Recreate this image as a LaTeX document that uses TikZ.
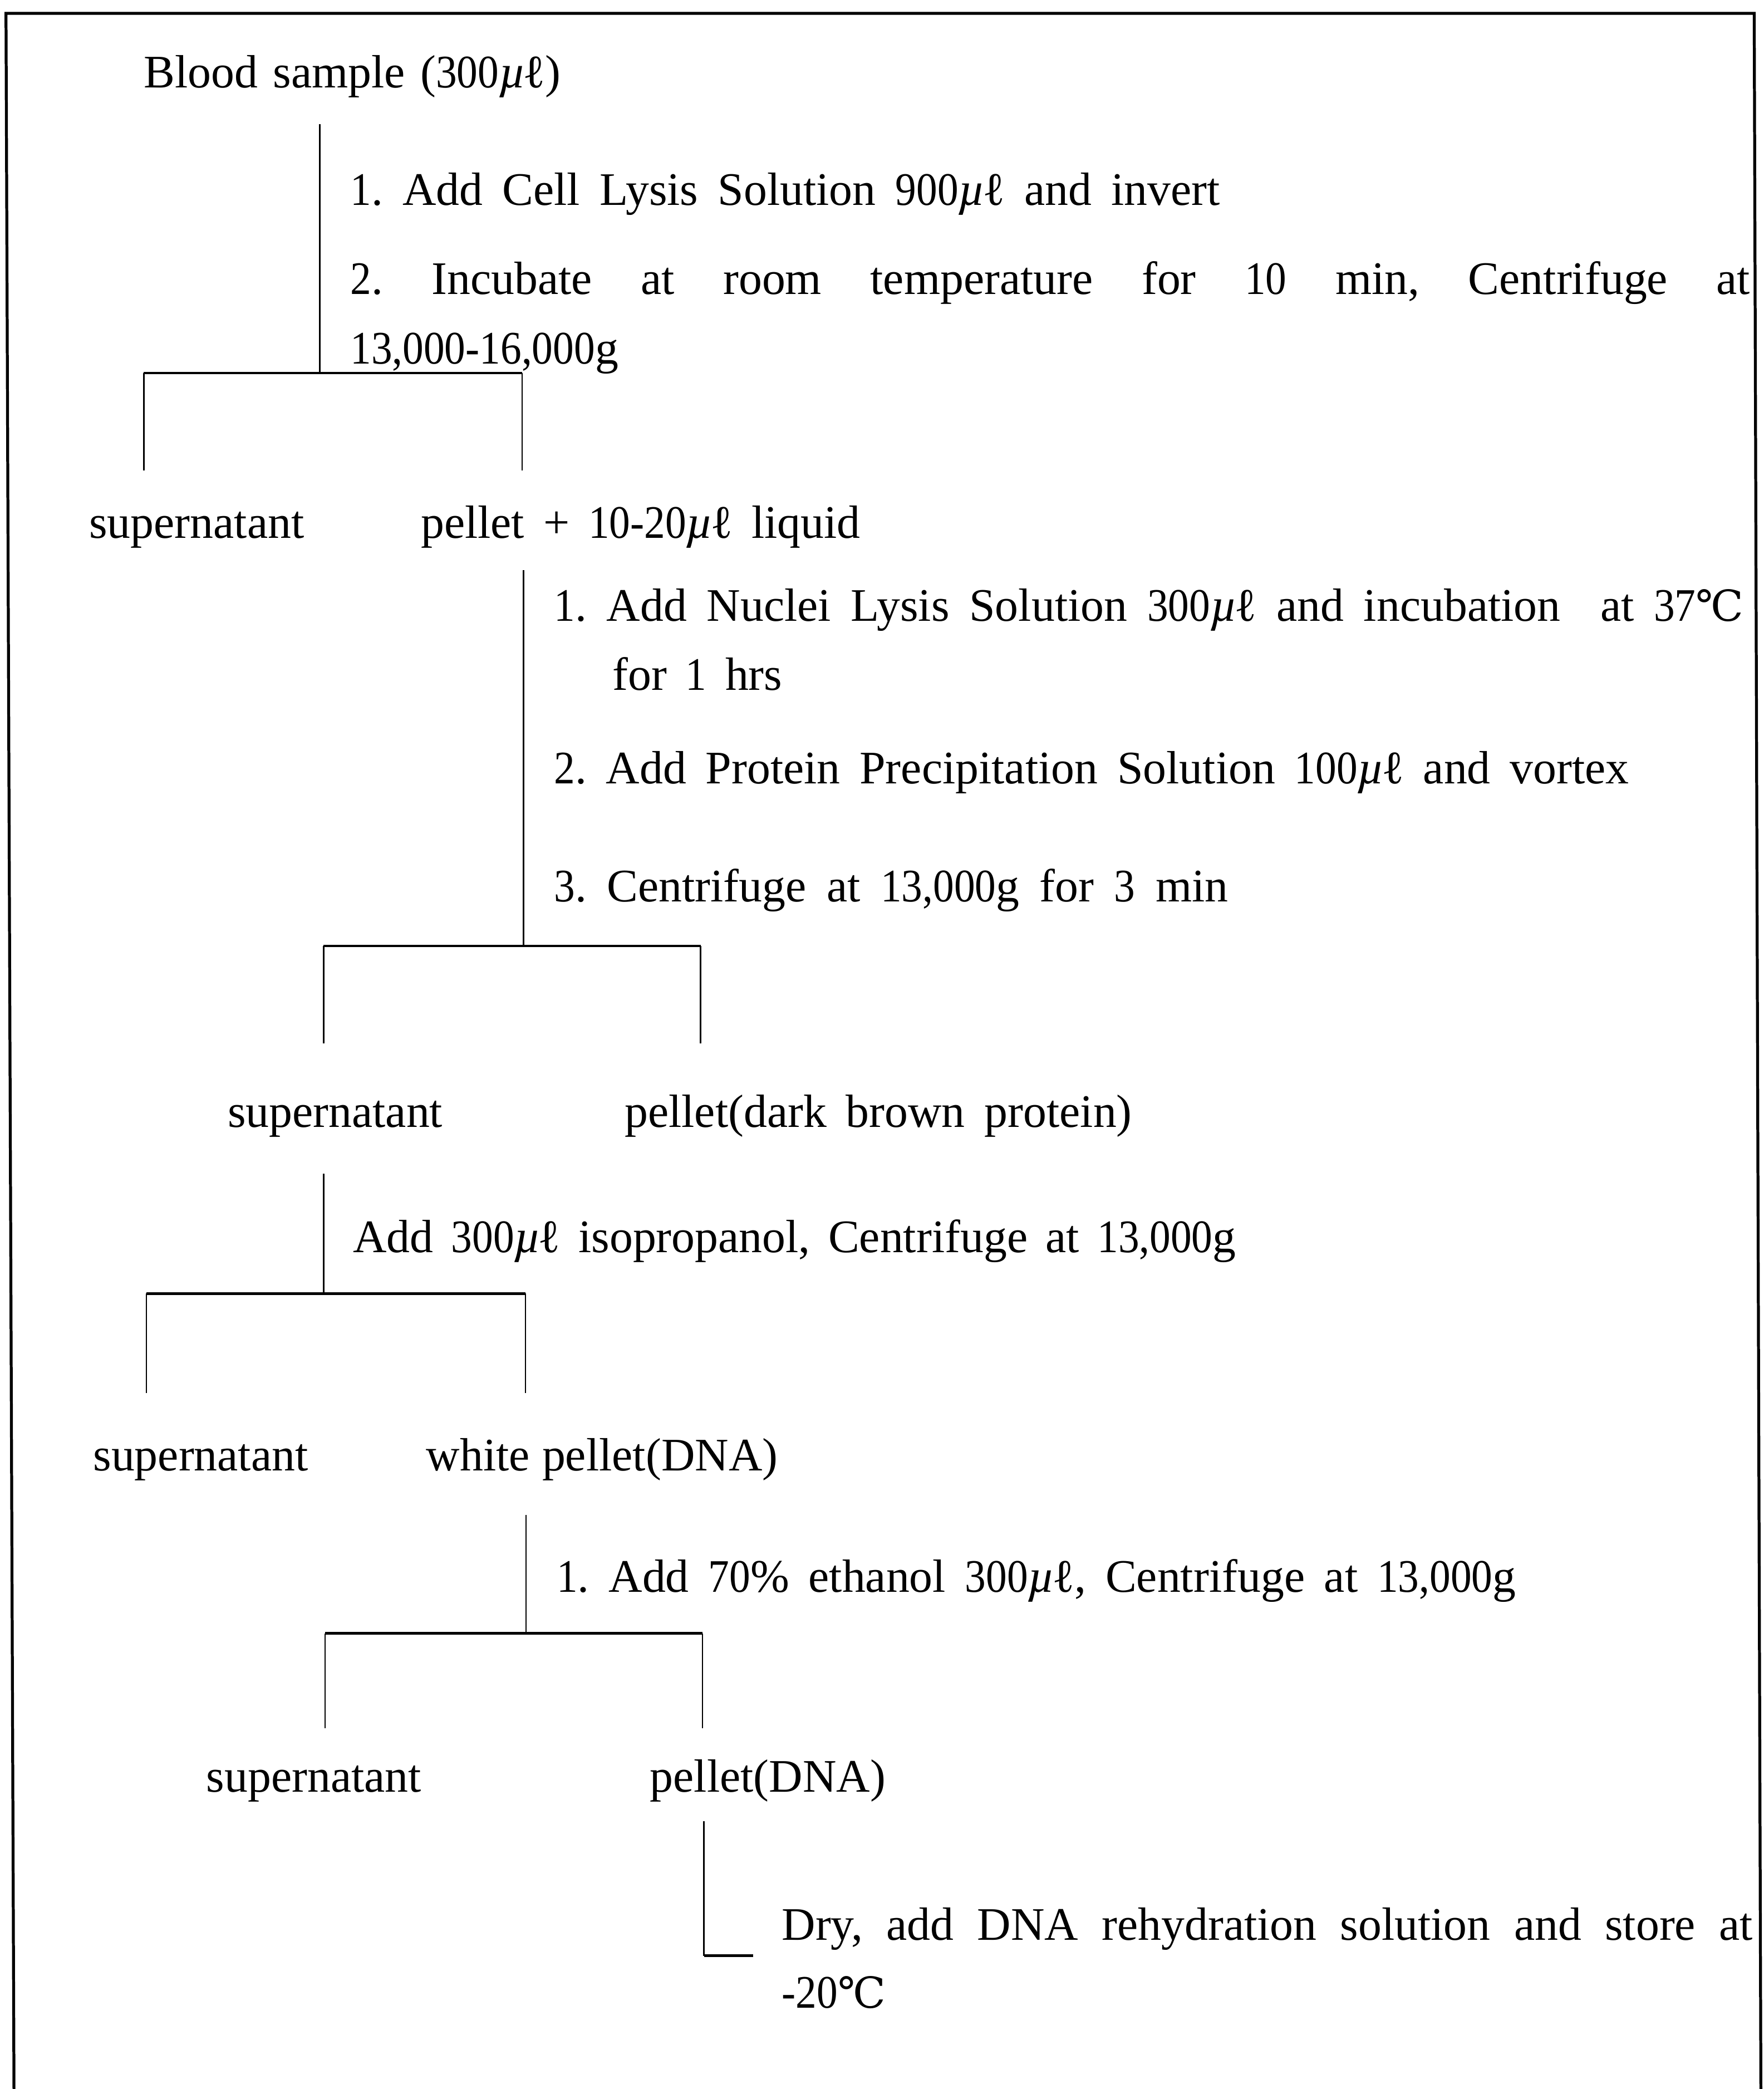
\documentclass[tikz,border=0pt]{standalone}
\usepackage{fontspec}
\setmainfont{Liberation Serif}
\newfontfamily\symfont{DejaVu Serif}
\newfontfamily\numfont[FakeStretch=0.9]{Liberation Serif}
\newcommand{\nm}[1]{{\numfont #1}}
\newcommand{\mul}{{\itshape µ}\kern-0.06em ℓ}
\newcommand{\degc}{{\symfont\fontsize{11}{13}\selectfont ℃}}
\newcommand{\txtfont}{\fontsize{12}{14}\selectfont\frenchspacing\spaceskip=0.4em plus 0.3em minus 0.2em\relax}
\begin{document}
\begin{tikzpicture}[x=0.342857pt,y=-0.342857pt,
  txt/.style={anchor=base west,inner sep=0pt,outer sep=0pt,font=\txtfont},
  stem/.style={line width=0.35pt},
  bar/.style={line width=0.65pt},
  frame/.style={line width=0.75pt}]
\useasboundingbox (0,0) rectangle (1324,1568);
% frame (open at the bottom)
\coordinate (fbl) at (10.5,1568);
\coordinate (ftl) at (4.5,10);
\coordinate (ftr) at (1317,10);
\coordinate (fbr) at (1322,1568);
\draw[frame] (fbl) -- (ftl) -- (ftr) -- (fbr);

% texts
\node[txt] (blood) at (108,65.7) {\makebox[107.3pt][s]{Blood sample (\nm{300}\mul)}};
\node[txt] (s1a) at (263,154) {\makebox[223.9pt][s]{\nm{1}. Add Cell Lysis Solution \nm{900}\mul\ and invert}};
\node[txt] (s1b) at (263,221) {\makebox[360.3pt][s]{\nm{2}. Incubate at room temperature for \nm{10} min, Centrifuge at}};
\node[txt] (s1c) at (263,273) {\nm{13,000-16,000}g};
\node[txt] (sup1) at (67,404) {supernatant};
\node[txt] (pel1) at (316,404) {\makebox[113.1pt][s]{pellet + \nm{10-20}\mul\ liquid}};
\node[txt] (s2a) at (416,466) {\makebox[306.2pt][s]{\nm{1}. Add Nuclei Lysis Solution \nm{300}\mul\ and incubation\ \ at \nm{37}\degc}};
\node[txt] (s2b) at (460,518) {for \nm{1} hrs};
\node[txt] (s2c) at (416,588) {\makebox[276.7pt][s]{\nm{2}. Add Protein Precipitation Solution \nm{100}\mul\ and vortex}};
\node[txt] (s2d) at (416,677) {\makebox[173.5pt][s]{\nm{3}. Centrifuge at \nm{13,000}g for \nm{3} min}};
\node[txt] (sup2) at (171,846) {supernatant};
\node[txt] (pel2) at (469,846) {\makebox[130.6pt][s]{pellet(dark brown protein)}};
\node[txt] (s3) at (265,940) {\makebox[227.3pt][s]{Add \nm{300}\mul\ isopropanol, Centrifuge at \nm{13,000}g}};
\node[txt] (sup3) at (70,1104) {supernatant};
\node[txt] (pel3) at (320,1104) {\makebox[90.5pt][s]{white pellet(DNA)}};
\node[txt] (s4) at (418,1195) {\makebox[246.9pt][s]{\nm{1}. Add \nm{70}\% ethanol \nm{300}\mul, Centrifuge at \nm{13,000}g}};
\node[txt] (sup4) at (155,1345) {supernatant};
\node[txt] (pel4) at (488,1345) {pellet(DNA)};
\node[txt] (s5a) at (587,1456) {\makebox[249.9pt][s]{Dry, add DNA rehydration solution and store at}};
\node[txt] (s5b) at (587,1507) {\nm{-20}\degc};

% bracket 1
\coordinate (a1) at (240,93);
\coordinate (j1) at (240,280);
\coordinate (l1) at (108,280);
\coordinate (r1) at (392,280);
\coordinate (l1e) at (108,353);
\coordinate (r1e) at (392,353);
\draw[stem] (a1) -- (j1);
\draw[bar] (l1) -- (r1);
\draw[stem] (l1) -- (l1e);
\draw[stem] (r1) -- (r1e);

% bracket 2
\coordinate (a2) at (393,428);
\coordinate (j2) at (393,710);
\coordinate (l2) at (243,710);
\coordinate (r2) at (526,710);
\coordinate (l2e) at (243,783);
\coordinate (r2e) at (526,783);
\draw[stem] (a2) -- (j2);
\draw[bar] (l2) -- (r2);
\draw[stem] (l2) -- (l2e);
\draw[stem] (r2) -- (r2e);

% bracket 3
\coordinate (a3) at (243,881);
\coordinate (j3) at (243,971);
\coordinate (l3) at (110,971);
\coordinate (r3) at (394.5,971);
\coordinate (l3e) at (110,1045.5);
\coordinate (r3e) at (394.5,1045.5);
\draw[stem] (a3) -- (j3);
\draw[bar] (l3) -- (r3);
\draw[stem] (l3) -- (l3e);
\draw[stem] (r3) -- (r3e);

% bracket 4
\coordinate (a4) at (395,1137);
\coordinate (j4) at (395,1226);
\coordinate (l4) at (244,1226);
\coordinate (r4) at (527.5,1226);
\coordinate (l4e) at (244,1297);
\coordinate (r4e) at (527.5,1297);
\draw[stem] (a4) -- (j4);
\draw[bar] (l4) -- (r4);
\draw[stem] (l4) -- (l4e);
\draw[stem] (r4) -- (r4e);

% final elbow
\coordinate (a5) at (528.5,1367);
\coordinate (j5) at (528.5,1468);
\coordinate (e5) at (565.5,1468);
\draw[stem] (a5) -- (j5);
\draw[bar] (j5) -- (e5);
\end{tikzpicture}
\end{document}
